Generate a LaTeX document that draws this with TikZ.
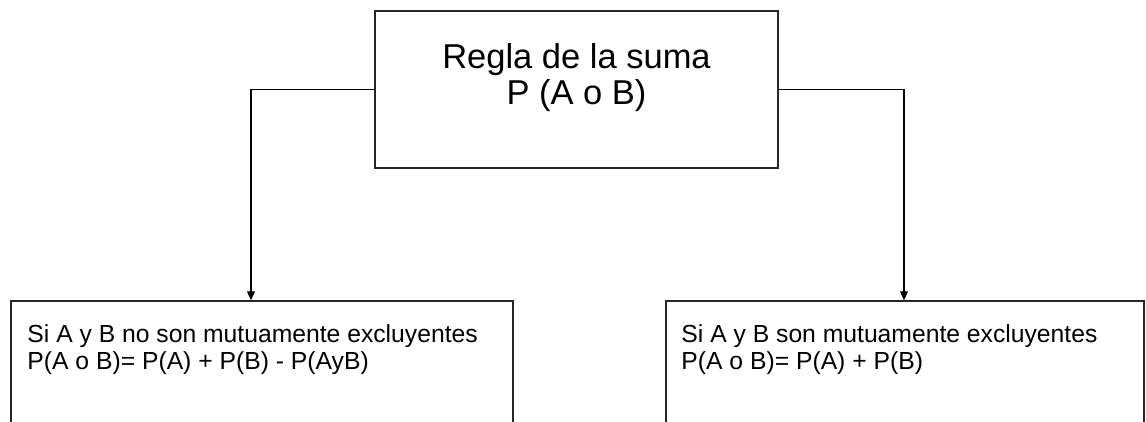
\documentclass[tikz,border=0pt]{standalone}
\usepackage{fontspec}
\setmainfont{Liberation Sans}
\usetikzlibrary{arrows.meta,positioning}

\begin{document}
\begin{tikzpicture}[x=1pt, y=-1pt, >={Triangle[length=9pt,width=8pt]},
  unit/.style={rectangle, draw=black!85, line width=1.5pt, inner sep=0pt},
  title/.style={inner sep=0pt, align=center, font=\fontsize{34.5}{36}\selectfont},
  body/.style={inner sep=0pt, align=left, font=\fontsize{24.7}{27}\selectfont},
  link/.style={line width=1.2pt}]

\path[use as bounding box, fill=white] (0,0) rectangle (1146,421);

%Nodes
\node[unit, minimum width=403pt, minimum height=157pt] (suma)   at (576.5,89.5) {};
\node[unit, minimum width=502pt, minimum height=200pt] (noexcl) at (262,401)    {};
\node[unit, minimum width=478pt, minimum height=200pt] (excl)   at (905,401)    {};

%Texts
\node[title] (sumatxt)   [below=33pt of suma.north]                {Regla de la suma\\P (A o B)};
\node[body]  (noexcltxt) [below right=24pt and 17pt of noexcl.north west] {Si A y B no son mutuamente excluyentes\\P(A o B)= P(A) + P(B) - P(AyB)};
\node[body]  (excltxt)   [below right=24pt and 16pt of excl.north west]   {Si A y B son mutuamente excluyentes\\P(A o B)= P(A) + P(B)};

%Lines
\coordinate (lturn) at (251,89.5);
\coordinate (rturn) at (904,89.5);
\draw[link, ->] (suma.west) -- (lturn) -- (lturn |- noexcl.north);
\draw[link, ->] (suma.east) -- (rturn) -- (rturn |- excl.north);

\end{tikzpicture}
\end{document}
